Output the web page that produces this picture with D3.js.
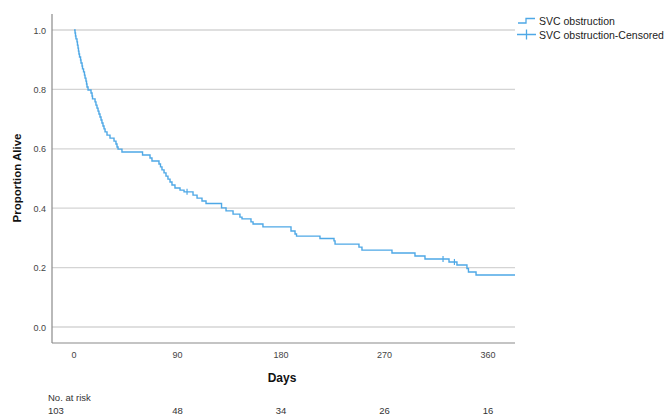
<!DOCTYPE html>
<html><head><meta charset="utf-8">
<script src="https://cdn.jsdelivr.net/npm/d3@7"></script>
<style>body{margin:0;background:#fff}svg{display:block;font-family:Arial,"Liberation Sans",sans-serif}</style>
</head><body><svg id="c" width="665" height="416"></svg>
<script>
// Event times (days) and survival after each drop
const eventDays = [0.9,1.3,1.7,2.6,3.0,3.5,3.9,4.3,4.8,5.7,6.1,7.0,7.4,8.3,9.1,9.6,10.4,10.9,11.3,12.2,
  14.8,15.7,16.1,18.3,19.1,20.0,20.9,21.7,22.6,23.5,24.3,25.2,26.1,27.0,28.7,31.3,34.8,36.5,37.4,38.3,41.7,
  59.6,66.1,67.8,73.9,75.2,76.5,78.3,80.0,81.7,83.5,85.2,87.8,92.2,95.7,103.5,107.0,111.3,114.8,
  128.3,132.2,138.3,144.3,146.1,153.9,155.7,164.3,188.7,192.2,193.5,213.9,226.1,227.0,247.8,250.4,
  276.5,296.5,305.2,326.1,333.0,341.7,343.0,349.6];
const eventSurv = [0.990,0.980,0.970,0.960,0.949,0.939,0.929,0.919,0.909,0.899,0.889,0.879,0.869,0.859,0.848,0.838,0.828,0.818,0.808,0.798,
  0.788,0.778,0.768,0.758,0.747,0.737,0.727,0.717,0.707,0.697,0.687,0.677,0.667,0.657,0.646,0.636,0.626,0.616,0.606,0.599,0.589,
  0.579,0.569,0.559,0.549,0.539,0.529,0.519,0.508,0.498,0.488,0.478,0.468,0.461,0.455,0.444,0.434,0.424,0.416,
  0.401,0.391,0.380,0.370,0.364,0.354,0.347,0.337,0.323,0.313,0.306,0.298,0.290,0.279,0.269,0.259,
  0.249,0.239,0.229,0.219,0.209,0.197,0.185,0.175];
const endDay = 383.5;
const censorDays = [98.3, 320.9, 330.8];
const censorSurv = [0.455, 0.229, 0.219];
const xTicks = [0,90,180,270,360];
const yTicks = [0,0.2,0.4,0.6,0.8,1.0];
const atRisk = [103,48,34,26,16];
const seriesName = "SVC obstruction";
const censoredName = "SVC obstruction-Censored";

const svg = d3.select("#c");
const x = d3.scaleLinear().domain([0,360]).range([74,488]);
const y = d3.scaleLinear().domain([0,1]).range([327,30]);
const pL = 52, pR = 515, pT = 14, pB = 343;
const blue = "#4ea8e6";

// gridlines
svg.append("g").selectAll("line").data(yTicks).join("line")
  .attr("x1",pL).attr("x2",pR).attr("y1",d=>y(d)).attr("y2",d=>y(d))
  .attr("stroke","#d4d4d4").attr("stroke-width",1.3);

// y axis labels
svg.append("g").selectAll("text").data(yTicks).join("text")
  .attr("x",46).attr("y",d=>y(d)+3.5).attr("text-anchor","end")
  .attr("font-size",9).attr("fill","#444").text(d=>d3.format(".1f")(d));
// x tick labels
svg.append("g").selectAll("text").data(xTicks).join("text")
  .attr("x",d=>x(d)).attr("y",358).attr("text-anchor","middle")
  .attr("font-size",9).attr("fill","#444").text(d=>d);

// axis lines
svg.append("line").attr("x1",pL).attr("x2",pL).attr("y1",pT).attr("y2",pB).attr("stroke","#8a8a8a").attr("stroke-width",1.2);
svg.append("line").attr("x1",pL).attr("x2",pR).attr("y1",pB).attr("y2",pB).attr("stroke","#8a8a8a").attr("stroke-width",1.2);

// titles
svg.append("text").attr("transform","translate(21,178) rotate(-90)").attr("text-anchor","middle")
  .attr("font-size",11.5).attr("font-weight","bold").attr("fill","#111").text("Proportion Alive");
svg.append("text").attr("x",282).attr("y",382).attr("text-anchor","middle")
  .attr("font-size",12).attr("font-weight","bold").attr("fill","#111").text("Days");

// curve
const pts = [[0,1]].concat(eventDays.map((d,i)=>[d,eventSurv[i]]), [[endDay, eventSurv[eventSurv.length-1]]]);
const line = d3.line().x(d=>x(d[0])).y(d=>y(d[1])).curve(d3.curveStepAfter);
svg.append("path").attr("d",line(pts)).attr("fill","none").attr("stroke",blue).attr("stroke-width",1.4);

// censor marks
svg.append("g").selectAll("line").data(censorDays).join("line")
  .attr("x1",d=>x(d)).attr("x2",d=>x(d))
  .attr("y1",(d,i)=>y(censorSurv[i])-3).attr("y2",(d,i)=>y(censorSurv[i])+3)
  .attr("stroke",blue).attr("stroke-width",1.2);

// legend
const lg = svg.append("g");
lg.append("path").attr("d","M518,23 H526 V18.5 H535").attr("fill","none").attr("stroke",blue).attr("stroke-width",1.3);
lg.append("text").attr("x",539).attr("y",24.5).attr("font-size",10.5).attr("fill","#222").text(seriesName);
lg.append("path").attr("d","M517,34.5 H536 M526.5,29.5 V39.5").attr("fill","none").attr("stroke",blue).attr("stroke-width",1.3);
lg.append("text").attr("x",539).attr("y",38.5).attr("font-size",10.5).attr("fill","#222").text(censoredName);

// number at risk
svg.append("text").attr("x",48).attr("y",401).attr("font-size",9.5).attr("fill","#333").text("No. at risk");
svg.append("g").selectAll("text").data(atRisk).join("text")
  .attr("x",(d,i)=> i===0 ? 48 : x(xTicks[i])).attr("y",414)
  .attr("text-anchor",(d,i)=> i===0 ? "start" : "middle")
  .attr("font-size",9.5).attr("fill","#333").text(d=>d);
</script></body></html>
